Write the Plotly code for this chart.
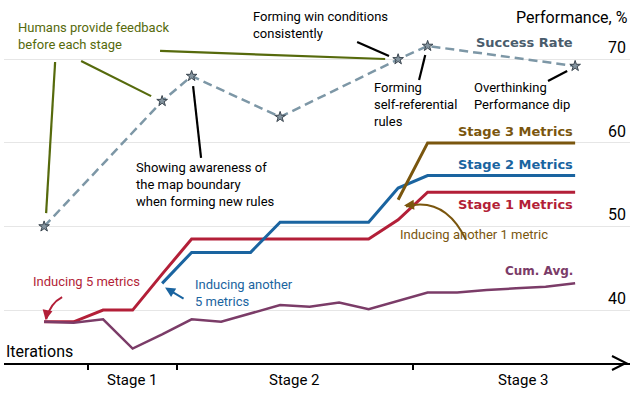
import plotly.graph_objects as go

# iteration index 0..18
iterations = list(range(19))

# success rate (stars only at some iterations)
success_iter = [0, 4, 5, 8, 12, 13, 18]
success_rate = [50.0, 65.0, 68.0, 63.1, 70.0, 71.6, 69.2]

cum_avg = [38.6, 38.5, 38.9, 35.4, 37.1, 38.9, 38.6, 39.6, 40.6, 40.4,
           40.9, 40.1, 41.1, 42.1, 42.1, 42.4, 42.6, 42.8, 43.2]

stage1_iter = iterations
stage1 = [38.6, 38.6, 40.0, 40.0, 44.3, 48.5, 48.5, 48.5, 48.5, 48.5,
          48.5, 48.5, 50.8, 54.1, 54.1, 54.1, 54.1, 54.1, 54.1]

stage2_iter = list(range(4, 19))
stage2 = [43.2, 46.9, 46.9, 46.9, 50.5, 50.5, 50.5, 50.5, 54.6, 56.1,
          56.1, 56.1, 56.1, 56.1, 56.1]

stage3_iter = list(range(12, 19))
stage3 = [53.2, 60.0, 60.0, 60.0, 60.0, 60.0, 60.0]

stage_bounds = [1.5, 4.5, 12.5]
stage_names = ['Stage 1', 'Stage 2', 'Stage 3']
stage_centers = [3, 8.5, 16.25]
y_ticks = [40, 50, 60, 70]

RED = '#b31f38'
BLUE = '#1a64a0'
BROWN = '#7a560e'
PURPLE = '#7b3c68'
SLATE = '#7d97a6'
SLATE_DARK = '#4a5c6c'
OLIVE = '#566a0c'
TXT = 'Roboto'
BOLD = 'DejaVu Sans'

X_RANGE = [-1.36, 19.86]
Y_RANGE = [33.67, 76.5]

fig = go.Figure()

fig.add_trace(go.Scatter(x=stage1_iter, y=stage1, mode='lines',
                         line=dict(color=RED, width=3)))
fig.add_trace(go.Scatter(x=stage2_iter, y=stage2, mode='lines',
                         line=dict(color=BLUE, width=3)))
fig.add_trace(go.Scatter(x=stage3_iter, y=stage3, mode='lines',
                         line=dict(color=BROWN, width=3)))
fig.add_trace(go.Scatter(x=iterations, y=cum_avg, mode='lines',
                         line=dict(color=PURPLE, width=2.5)))
fig.add_trace(go.Scatter(x=success_iter, y=success_rate, mode='lines+markers',
                         line=dict(color=SLATE, width=2.5, dash='9px,5px'),
                         marker=dict(symbol='star', size=8, color='#8595a0',
                                     line=dict(color='#3b4650', width=1))))

# series labels at the right end
labels = [
    ('Success Rate', 72.0, SLATE_DARK, 13),
    ('Stage 3 Metrics', 61.4, BROWN, 13),
    ('Stage 2 Metrics', 57.4, BLUE, 13),
    ('Stage 1 Metrics', 52.6, RED, 13),
    ('Cum. Avg.', 44.7, PURPLE, 12),
]
for txt, yv, col, sz in labels:
    fig.add_annotation(x=18, y=yv, text='<b>' + txt + '</b>', showarrow=False,
                       xanchor='right', yanchor='middle',
                       font=dict(family=BOLD, size=sz, color=col))

# text notes
notes = [
    ('Humans provide feedback<br>before each stage', -0.95, 74.9, OLIVE),
    ('Forming win conditions<br>consistently', 7.02, 76.3, 'black'),
    ('Forming<br>self-referential<br>rules', 11.12, 67.8, 'black'),
    ('Overthinking<br>Performance dip', 14.5, 67.8, 'black'),
    ('Showing awareness of<br>the map boundary<br>when forming new rules', 3.05, 58.2, 'black'),
]
for txt, xv, yv, col in notes:
    fig.add_annotation(x=xv, y=yv, text=txt, showarrow=False, align='left',
                       xanchor='left', yanchor='top',
                       font=dict(family=TXT, size=13, color=col))

fig.add_annotation(x=12.0, y=49.1, text='Inducing another 1 metric', showarrow=False,
                   xanchor='left', yanchor='middle', font=dict(family=TXT, size=13, color=BROWN))
fig.add_annotation(x=-0.44, y=43.4, text='Inducing 5 metrics', showarrow=False,
                   xanchor='left', yanchor='middle', font=dict(family=TXT, size=13, color=RED))
fig.add_annotation(x=5.04, y=42.0, text='Inducing another<br>5 metrics', showarrow=False,
                   align='left', xanchor='left', yanchor='middle',
                   font=dict(family=TXT, size=13, color=BLUE))

# pointer lines
pointers = [
    (0.373, 69.68, 0.068, 51.6, OLIVE),
    (1.254, 69.8, 3.627, 65.6, OLIVE),
    (3.93, 71.0, 11.56, 70.04, OLIVE),
    (10.61, 72.07, 11.69, 70.39, 'black'),
    (12.92, 70.51, 12.71, 67.52, 'black'),
    (17.08, 67.4, 17.73, 68.6, 'black'),
    (5.05, 66.8, 5.32, 58.2, 'black'),
]
for x0, y0, x1, y1, col in pointers:
    fig.add_shape(type='line', x0=x0, y0=y0, x1=x1, y1=y1,
                  line=dict(color=col, width=2.2))

# curved arrows
fig.add_shape(type='path', path='M 14.3,48.4 Q 13.59,53.6 12.27,52.4',
              line=dict(color=BROWN, width=2))
fig.add_annotation(x=12.2, y=52.5, ax=12, ay=-1, text='', showarrow=True,
                   arrowhead=2, arrowsize=1, arrowwidth=2, arrowcolor=BROWN)
fig.add_shape(type='path', path='M 0.61,41.55 Q 0.2,40.8 0.07,38.9',
              line=dict(color=RED, width=2))
fig.add_annotation(x=0.05, y=38.8, ax=2, ay=-10, text='', showarrow=True,
                   arrowhead=2, arrowsize=1, arrowwidth=2, arrowcolor=RED)
fig.add_annotation(x=4.1, y=42.7, ax=20, ay=12, text='', showarrow=True,
                   arrowhead=2, arrowsize=1, arrowwidth=2, arrowcolor=BLUE)

# axis texts
fig.add_annotation(x=1, y=0.9637, xref='paper', yref='paper', text='Performance, %',
                   showarrow=False, xanchor='right', yanchor='middle',
                   font=dict(family=TXT, size=16, color='black'))
fig.add_annotation(x=0, y=0.0335, xref='paper', yref='paper', text='Iterations',
                   showarrow=False, xanchor='left', yanchor='middle',
                   font=dict(family=TXT, size=16, color='black'))
for name, cx in zip(stage_names, stage_centers):
    fig.add_annotation(x=cx, y=0, yref='paper', text=name, showarrow=False,
                       xanchor='center', yanchor='top', yshift=-6,
                       font=dict(family=TXT, size=15, color='black'))

# arrow tip of the x axis (paper ref so it is not clipped)
fig.add_shape(type='path', xref='paper', yref='paper', xsizemode='pixel', ysizemode='pixel',
              xanchor=1, yanchor=0,
              path='M -18,7 L -4,0 L -18,-7', line=dict(color='black', width=2))

fig.update_layout(
    width=634, height=394,
    margin=dict(l=4, r=4, t=5, b=31),
    paper_bgcolor='white', plot_bgcolor='white',
    showlegend=False,
    font=dict(family=TXT, size=15, color='black'),
    xaxis=dict(range=X_RANGE, showgrid=False, zeroline=False,
               showline=True, linecolor='black', linewidth=2,
               tickmode='array', tickvals=stage_bounds, showticklabels=False,
               ticks='outside', ticklen=5, tickwidth=2, tickcolor='black'),
    yaxis=dict(range=Y_RANGE, side='right', tickmode='array', tickvals=y_ticks,
               ticklabelposition='inside', ticklabelshift=-12, ticklabelstandoff=1,
               showgrid=True, gridcolor='#e6e6e6', gridwidth=1, zeroline=False,
               showline=False, ticks='',
               tickfont=dict(family=TXT, size=16, color='black')),
)

# drop the default page margin so the figure sits at the window corner
fig.write_html('out.html', config={'displayModeBar': False},
               post_script="document.body.style.margin='0';")
